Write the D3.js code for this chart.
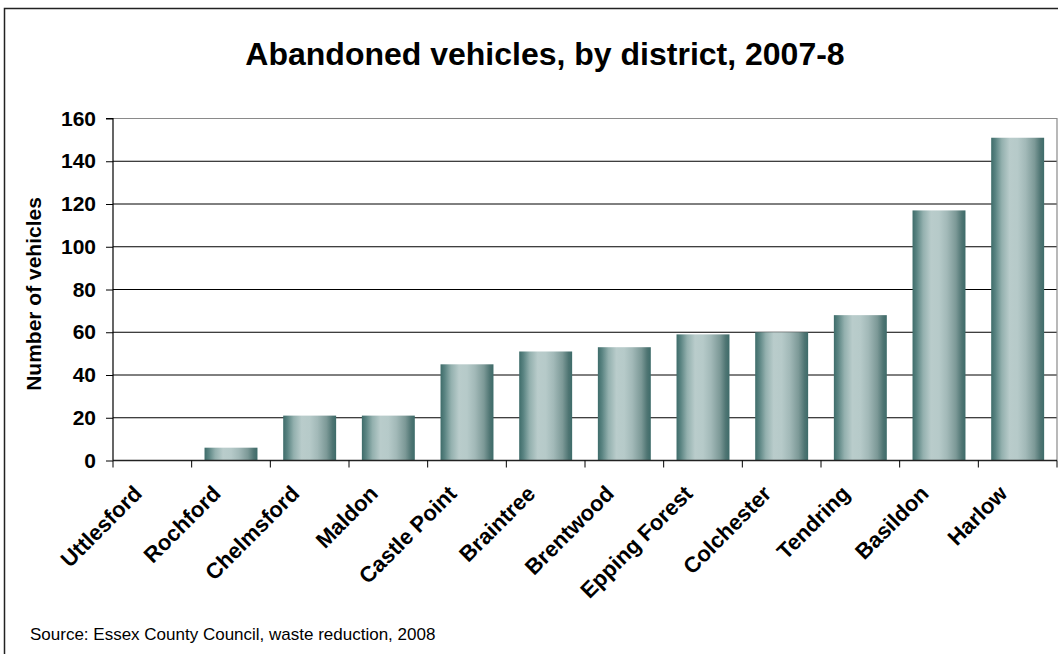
<!DOCTYPE html>
<html><head><meta charset="utf-8">
<script src="https://cdn.jsdelivr.net/npm/d3@7"></script>
<style>
html,body{margin:0;padding:0;background:#fff;overflow:hidden;}
svg{display:block;font-family:Arial,"Liberation Sans",sans-serif;}
</style></head>
<body>
<svg id="chart" width="1058" height="654"></svg>
<script>
const categories = ["Uttlesford","Rochford","Chelmsford","Maldon","Castle Point","Braintree","Brentwood","Epping Forest","Colchester","Tendring","Basildon","Harlow"];
const vehicles = [0, 6, 21, 21, 45, 51, 53, 59, 60, 68, 117, 151];
const yTicks = [0, 20, 40, 60, 80, 100, 120, 140, 160];
const titleText = "Abandoned vehicles, by district, 2007-8";
const yAxisTitle = "Number of vehicles";
const sourceText = "Source: Essex County Council, waste reduction, 2008";

const svg = d3.select("#chart");
const W = 1058, H = 654;
const plot = {left: 113, right: 1057, top: 118.5, bottom: 460.5};

// gradient
const defs = svg.append("defs");
const grad = defs.append("linearGradient").attr("id","barGrad").attr("x1","0").attr("x2","1").attr("y1","0").attr("y2","0");
[[0,"#3e6c6a"],[0.08,"#5a8482"],[0.2,"#93b0ae"],[0.35,"#b9cccb"],[0.5,"#b6cac9"],[0.65,"#a2b9b8"],[0.82,"#7c9997"],[0.93,"#4f7573"],[1,"#3d6b69"]]
  .forEach(([o,c]) => grad.append("stop").attr("offset", o).attr("stop-color", c));

// outer frame (right/bottom beyond viewport)
svg.append("rect").attr("x",4.5).attr("y",8.5).attr("width",W+20).attr("height",H+20)
  .attr("fill","#fff").attr("stroke","#222").attr("stroke-width",1.5);

const x = d3.scaleBand().domain(categories).range([plot.left, plot.right]).paddingInner(0.327).paddingOuter(0.1635);
const y = d3.scaleLinear().domain([0,160]).range([plot.bottom, plot.top]);

// gridlines
svg.append("g").selectAll("line").data(yTicks.filter(d => d > 0 && d < 160)).join("line")
  .attr("x1", plot.left).attr("x2", plot.right)
  .attr("y1", d => y(d)).attr("y2", d => y(d))
  .attr("stroke","#000").attr("stroke-width",1);

// plot border top/right
svg.append("path").attr("d", `M${plot.left},${y(160)}H${plot.right}V${plot.bottom}`)
  .attr("fill","none").attr("stroke","#8a8a8a").attr("stroke-width",1.2);

// bars
svg.append("g").selectAll("rect").data(vehicles).join("rect")
  .attr("x", (d,i) => x(categories[i]))
  .attr("width", x.bandwidth())
  .attr("y", d => y(d))
  .attr("height", d => y(0) - y(d))
  .attr("fill","url(#barGrad)");

// y axis
const yAxis = d3.axisLeft(y).tickValues(yTicks).tickSize(7).tickPadding(10).tickFormat(d3.format("d"));
const gy = svg.append("g").attr("transform", `translate(${plot.left},0)`).call(yAxis);
gy.select(".domain").attr("stroke","#000").attr("stroke-width",1.2).attr("d", `M-7,${y(160)}H0V${plot.bottom}`);
gy.selectAll(".tick line").attr("stroke","#000");
gy.selectAll(".tick text").attr("font-size",21).attr("font-weight","bold").attr("fill","#000")
  .attr("font-family","Arial,'Liberation Sans',sans-serif");

// x axis: ticks at band boundaries
const step = x.step();
const boundaries = d3.range(categories.length + 1).map(i => plot.left + i * step);
svg.append("line").attr("x1", plot.left).attr("x2", plot.right).attr("y1", plot.bottom).attr("y2", plot.bottom)
  .attr("stroke","#222").attr("stroke-width",1.5);
svg.append("g").selectAll("line").data(boundaries).join("line")
  .attr("x1", d => d).attr("x2", d => d).attr("y1", plot.bottom).attr("y2", plot.bottom + 7)
  .attr("stroke","#000");

svg.append("g").selectAll("text").data(categories).join("text")
  .attr("transform", d => `translate(${x(d) + x.bandwidth()/2 - 9},${495}) rotate(-45)`)
  .attr("text-anchor","end")
  .attr("font-size",22).attr("font-weight","bold").attr("fill","#000")
  .text(d => d);

// y axis title
svg.append("text").attr("transform", `translate(41,${294}) rotate(-90)`)
  .attr("text-anchor","middle").attr("font-size",21).attr("font-weight","bold").text(yAxisTitle);

// title
svg.append("text").attr("x", 545).attr("y", 65).attr("text-anchor","middle")
  .attr("font-size",32).attr("font-weight","bold").text(titleText);

// source
svg.append("text").attr("x", 30).attr("y", 640).attr("font-size",17).text(sourceText);
</script>
</body></html>
